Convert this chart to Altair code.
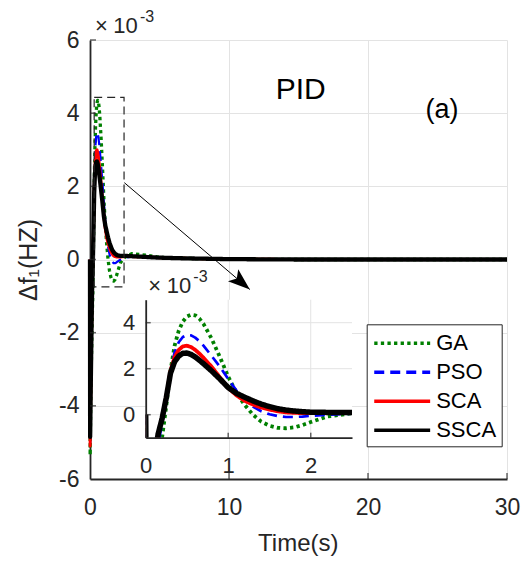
import math
import altair as alt
import pandas as pd

# ---------------- data (frequency deviation in units of 1e-3 Hz) ----------------
time_s = [0, 0.01, 0.05, 0.1, 0.15, 0.2, 0.25, 0.3, 0.35, 0.4,
          0.45, 0.5, 0.55, 0.6, 0.65, 0.7, 0.8, 0.9, 1.0, 1.1,
          1.2, 1.3, 1.4, 1.5, 1.6, 1.7, 1.8, 1.9, 2.0, 2.2,
          2.5, 3, 4, 5, 7, 10, 15, 20, 25, 30]
ga = [0, -5.35, -4.0, -2.8, -1.8, -0.95, 0.4, 1.9, 3.0, 3.65,
      4.05, 4.27, 4.35, 4.32, 4.18, 3.95, 3.3, 2.5, 1.65, 0.95,
      0.42, 0.0, -0.3, -0.48, -0.57, -0.59, -0.55, -0.45, -0.32, -0.08,
      0.06, 0.16, 0.12, 0.06, 0.03, 0.01, 0, 0, 0, 0]
pso = [0, -5.0, -3.6, -2.3, -1.3, -0.35, 0.75, 1.9, 2.7, 3.15,
       3.38, 3.47, 3.45, 3.35, 3.2, 3.0, 2.55, 2.08, 1.55, 1.05,
       0.65, 0.35, 0.15, 0.02, -0.06, -0.1, -0.1, -0.08, -0.05, 0.0,
       0.05, 0.08, 0.06, 0.05, 0.03, 0.01, 0, 0, 0, 0]
sca = [0, -5.1, -3.7, -2.2, -0.9, -0.1, 0.8, 1.9, 2.5, 2.82,
       2.97, 3.0, 2.94, 2.82, 2.66, 2.48, 2.08, 1.62, 1.16, 0.84,
       0.6, 0.44, 0.31, 0.22, 0.15, 0.1, 0.08, 0.07, 0.07, 0.07,
       0.08, 0.08, 0.07, 0.05, 0.03, 0.01, 0, 0, 0, 0]
ssca = [0, -4.85, -3.6, -2.1, -0.85, -0.15, 0.75, 1.8, 2.3, 2.55,
        2.67, 2.68, 2.62, 2.51, 2.37, 2.22, 1.9, 1.55, 1.18, 0.93,
        0.76, 0.6, 0.46, 0.35, 0.26, 0.2, 0.16, 0.13, 0.11, 0.1,
        0.1, 0.09, 0.07, 0.05, 0.03, 0.01, 0, 0, 0, 0]

methods = ["GA", "PSO", "SCA", "SSCA"]
series = {"GA": ga, "PSO": pso, "SCA": sca, "SSCA": ssca}
colors = ["#008000", "#0000ff", "#ff0000", "#000000"]
dashes = [[3.3, 3.3], [10, 6], [1, 0], [1, 0]]
main_widths = {"GA": 3.3, "PSO": 2.2, "SCA": 3.0, "SSCA": 4.3}
inset_widths = {"GA": 3.8, "PSO": 2.7, "SCA": 3.8, "SSCA": 5.5}

main_x_domain = [0, 30]
main_y_domain = [-6, 6]
main_x_ticks = [0, 10, 20, 30]
main_y_ticks = [-6, -4, -2, 0, 2, 4, 6]
inset_x_domain = [0, 2.5]
inset_y_domain = [-1, 5]
inset_x_ticks = [0, 1, 2]
inset_y_ticks = [0, 2, 4]
zoom_box_t = [0.3, 2.45]
zoom_box_v = [-0.75, 4.43]
arrow_t = [2.47, 11.5]
arrow_v = [2.1, -0.82]

# ---------------- layout / style ----------------
W, H = 417, 439
PAD = {"left": 90, "top": 40, "right": 19, "bottom": 83}
INSET_X_PX = [55.7, 262.0]
INSET_Y_PX = [397.7, 259.7]
FONT = "Liberation Sans"
AX = "#262626"
GRID = "#e3e3e3"

df = pd.DataFrame([{"t": t, "v": v, "method": m}
                   for m in methods for t, v in zip(time_s, series[m])])
df_inset = df[df["t"] <= inset_x_domain[1]]

main_xs = alt.Scale(domain=main_x_domain, nice=False, zero=False)
main_ys = alt.Scale(domain=main_y_domain, nice=False, zero=False)
inset_xs = alt.Scale(domain=inset_x_domain, range=INSET_X_PX, nice=False, zero=False)
inset_ys = alt.Scale(domain=inset_y_domain, range=INSET_Y_PX, nice=False, zero=False)

common_axis = dict(title=None, ticks=False, tickSize=0, domainColor=AX, domainWidth=1.8,
                   labelFont=FONT, labelColor=AX, labelFlush=False, labelOverlap=False,
                   labelExpr="'' + datum.value")
main_xaxis = alt.Axis(orient="bottom", values=main_x_ticks, grid=True, gridColor=GRID,
                      gridWidth=1, labelFontSize=23, labelPadding=17, **common_axis)
main_yaxis = alt.Axis(orient="left", values=main_y_ticks, grid=True, gridColor=GRID,
                      gridWidth=1, labelFontSize=23, labelPadding=11, **common_axis)
inset_xaxis = alt.Axis(orient="bottom", values=inset_x_ticks, grid=False, labelFontSize=22,
                       labelPadding=18, offset=-(H - INSET_Y_PX[0]), zindex=1, **common_axis)
inset_yaxis = alt.Axis(orient="left", values=inset_y_ticks, grid=False, labelFontSize=22,
                       labelPadding=11, offset=-INSET_X_PX[0], zindex=1, **common_axis)

legend = alt.Legend(orient="none", legendX=276.7, legendY=284.3, title=None,
                    symbolType="M-2.33,0H2.33", symbolSize=576, symbolStrokeWidth=3.4,
                    symbolOffset=16.5, labelOffset=20, padding=5, rowPadding=4,
                    labelFontSize=22, labelFont=FONT, labelColor="black",
                    strokeColor=AX, fillColor="white", labelLimit=0)
enc_style = dict(
    color=alt.Color("method:N", scale=alt.Scale(domain=methods, range=colors), legend=legend),
    strokeDash=alt.StrokeDash("method:N", scale=alt.Scale(domain=methods, range=dashes), legend=legend),
)

clip_path = "pathShape('M{0},{1}H{2}V{3}H{0}Z')".format(
    INSET_X_PX[0], INSET_Y_PX[1], INSET_X_PX[1], INSET_Y_PX[0])


def lines(data, xs, ys, xa, ya, clip, widths):
    out = []
    for m in methods:
        out.append(alt.Chart(data[data["method"] == m]).mark_line(
            strokeJoin="round", strokeWidth=widths[m], clip=clip).encode(
            x=alt.X("t:Q", scale=xs, axis=xa),
            y=alt.Y("v:Q", scale=ys, axis=ya),
            **enc_style))
    return out


def mx(f):
    return alt.X(f, type="quantitative", scale=main_xs, axis=main_xaxis)


def my(f):
    return alt.Y(f, type="quantitative", scale=main_ys, axis=main_yaxis)


def ix(f):
    return alt.X(f, type="quantitative", scale=inset_xs, axis=inset_xaxis)


def iy(f):
    return alt.Y(f, type="quantitative", scale=inset_ys, axis=inset_yaxis)


# ---------------- main panel ----------------
main_lines = lines(df, main_xs, main_ys, main_xaxis, main_yaxis, False, main_widths)

box_df = pd.DataFrame({"t0": [zoom_box_t[0]], "t1": [zoom_box_t[1]],
                       "v0": [zoom_box_v[0]], "v1": [zoom_box_v[1]]})
box = alt.Chart(box_df).mark_rect(filled=False, stroke=AX, strokeWidth=1.2,
                                  strokeDash=[8, 5]).encode(
    x=mx("t0"), x2="t1", y=my("v0"), y2="v1")

arr_df = pd.DataFrame({"t0": [arrow_t[0]], "t1": [arrow_t[1]],
                       "v0": [arrow_v[0]], "v1": [arrow_v[1]]})
arrow_line = alt.Chart(arr_df).mark_rule(color="black", strokeWidth=1).encode(
    x=mx("t0"), x2="t1", y=my("v0"), y2="v1")
px_x = W / (main_x_domain[1] - main_x_domain[0])
px_y = H / (main_y_domain[1] - main_y_domain[0])
ang = math.degrees(math.atan2((arrow_v[0] - arrow_v[1]) * px_y,
                              (arrow_t[1] - arrow_t[0]) * px_x))
arrow_head = alt.Chart(arr_df).mark_point(
    shape="M0,0L-1,-0.36L-0.78,0L-1,0.36Z", filled=True, size=1936, color="black",
    opacity=1, strokeWidth=0, angle=ang).encode(x=mx("t1"), y=my("v1"))

mxt_df = pd.DataFrame({"t": main_x_ticks[1:], "v": [main_y_domain[0]] * 3})
main_xt = alt.Chart(mxt_df).mark_tick(orient="vertical", size=6, thickness=1.5,
                                      yOffset=-3, color=AX).encode(x=mx("t"), y=my("v"))
myt_df = pd.DataFrame({"t": [main_x_domain[0]] * 6, "v": main_y_ticks[1:]})
main_yt = alt.Chart(myt_df).mark_tick(orient="horizontal", size=6, thickness=1.5,
                                      xOffset=3, color=AX).encode(x=mx("t"), y=my("v"))


def label(text, x, y, size, align="left", angle=0, color=AX):
    kw = dict(align=align, baseline="alphabetic", font=FONT, fontSize=size, color=color)
    if angle:
        kw["angle"] = angle
    return alt.Chart(pd.DataFrame({"s": [text]})).mark_text(**kw).encode(
        x=alt.value(x), y=alt.value(y), text="s:N")


texts = [
    label("PID", 210.7, 59.3, 30, "center", color="black"),
    label("(a)", 352, 77.5, 27, "center", color="black"),
    label("×", 5, -7, 22),
    label("10", 23.3, -7, 22),
    label("-3", 50, -18, 16),
    label("×", 58.3, 253.3, 22),
    label("10", 76.7, 253.3, 22),
    label("-3", 103.3, 241.7, 16),
    label("Time(s)", 208.3, 510.7, 24, "center"),
    label("Δf₁(HZ)", -53.3, 220, 25, "center", angle=270),
]

main = alt.layer(*main_lines, box, arrow_line, arrow_head, main_xt, main_yt, *texts)

# ---------------- inset panel ----------------
bg_df = pd.DataFrame({"t0": [inset_x_domain[0]], "t1": [inset_x_domain[1]],
                      "v0": [inset_y_domain[0]], "v1": [inset_y_domain[1]]})
inset_bg = alt.Chart(bg_df).mark_rect(color="white").encode(
    x=ix("t0"), x2="t1", y=iy("v0"), y2="v1")
gx_df = pd.DataFrame({"t": inset_x_ticks[1:], "v0": [inset_y_domain[0]] * 2,
                      "v1": [inset_y_domain[1]] * 2})
inset_gx = alt.Chart(gx_df).mark_rule(color=GRID, strokeWidth=1).encode(
    x=ix("t"), y=iy("v0"), y2="v1")
gy_df = pd.DataFrame({"v": inset_y_ticks, "t0": [inset_x_domain[0]] * 3,
                      "t1": [inset_x_domain[1]] * 3})
inset_gy = alt.Chart(gy_df).mark_rule(color=GRID, strokeWidth=1).encode(
    x=ix("t0"), x2="t1", y=iy("v"))
inset_lines = lines(df_inset, inset_xs, inset_ys, inset_xaxis, inset_yaxis,
                    alt.ExprRef(expr=clip_path), inset_widths)
ixt_df = pd.DataFrame({"t": inset_x_ticks[1:], "v": [inset_y_domain[0]] * 2})
inset_xt = alt.Chart(ixt_df).mark_tick(orient="vertical", size=5, thickness=1.5,
                                       yOffset=-2.5, color=AX).encode(x=ix("t"), y=iy("v"))
iyt_df = pd.DataFrame({"t": [inset_x_domain[0]] * 3, "v": inset_y_ticks})
inset_yt = alt.Chart(iyt_df).mark_tick(orient="horizontal", size=5, thickness=1.5,
                                       xOffset=2.5, color=AX).encode(x=ix("t"), y=iy("v"))

inset = alt.layer(inset_bg, inset_gx, inset_gy, *inset_lines, inset_xt, inset_yt)

chart = alt.layer(main, inset).resolve_scale(
    x="independent", y="independent"
).properties(
    width=W, height=H, padding=PAD,
    autosize=alt.AutoSizeParams(type="none"), background="white"
).configure_view(strokeWidth=0)

chart.save("out.html", embed_options={"renderer": "svg", "actions": False})
